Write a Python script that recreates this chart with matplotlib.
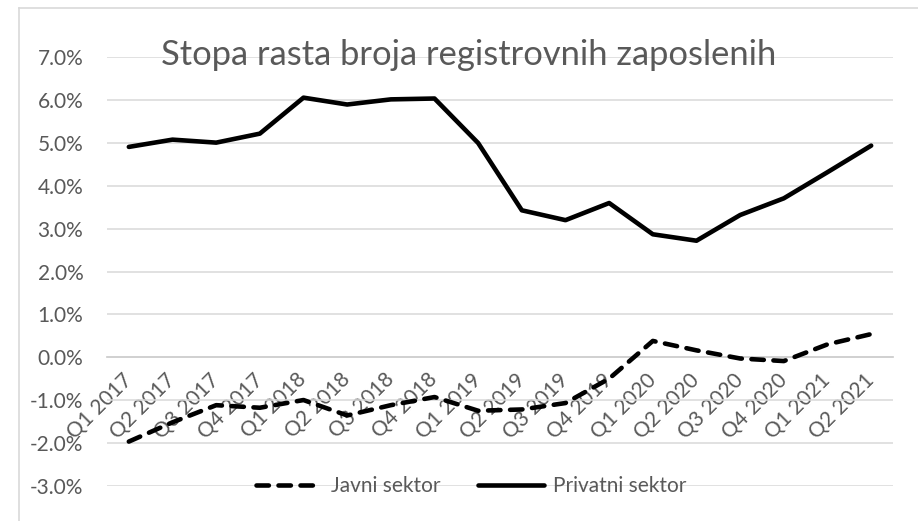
import matplotlib
matplotlib.use("Agg")
import matplotlib.pyplot as plt
from matplotlib.ticker import PercentFormatter
from matplotlib.lines import Line2D

categories = ["Q1 2017", "Q2 2017", "Q3 2017", "Q4 2017",
              "Q1 2018", "Q2 2018", "Q3 2018", "Q4 2018",
              "Q1 2019", "Q2 2019", "Q3 2019", "Q4 2019",
              "Q1 2020", "Q2 2020", "Q3 2020", "Q4 2020",
              "Q1 2021", "Q2 2021"]
javni = [-1.97, -1.52, -1.12, -1.18, -1.00, -1.36, -1.12, -0.93,
         -1.25, -1.22, -1.07, -0.50, 0.38, 0.16, -0.03, -0.09,
         0.30, 0.54]
privatni = [4.91, 5.08, 5.01, 5.22, 6.06, 5.90, 6.02, 6.04,
            5.00, 3.43, 3.20, 3.60, 2.87, 2.72, 3.32, 3.71,
            4.32, 4.94]
title = "Stopa rasta broja registrovnih zaposlenih"
yticks = [-3, -2, -1, 0, 1, 2, 3, 4, 5, 6, 7]

FONT = ["Lato", "DejaVu Sans"]
plt.rcParams["font.family"] = FONT
plt.rcParams["axes.unicode_minus"] = False
GRAY = "#595959"
FS = 15

W, H = 918, 521
fig = plt.figure(figsize=(W / 100, H / 100), dpi=100)
ax = fig.add_axes([107 / W, 1 - 485.7 / H, (893 - 107) / W, (485.7 - 57.4) / H])

x = list(range(len(categories)))
ax.plot(x, privatni, color="black", lw=3.3, solid_capstyle="round",
        solid_joinstyle="round", label="Privatni sektor", zorder=3)
ax.plot(x, javni, color="black", lw=3.3, linestyle=(0, (2.7, 2.1)),
        dash_capstyle="round", dash_joinstyle="round", label="Javni sektor", zorder=3)

ax.set_xlim(-0.5, len(categories) - 0.5)
ax.set_ylim(-3, 7)
ax.set_yticks(yticks)
ax.yaxis.set_major_formatter(PercentFormatter(decimals=1))
ax.grid(axis="y", color="#D9D9D9", lw=1.1)
ax.set_axisbelow(True)
for s in ["top", "right", "left"]:
    ax.spines[s].set_visible(False)
ax.spines["bottom"].set_position(("data", 0))
ax.spines["bottom"].set_color("#D0D0D0")
ax.spines["bottom"].set_linewidth(1.3)

ax.set_xticks(x)
ax.set_xticklabels(categories, rotation=45, ha="right", va="center",
                   rotation_mode="anchor", fontsize=FS, color=GRAY)
ax.tick_params(axis="x", length=0, pad=14)
ax.tick_params(axis="y", length=0, pad=17, labelsize=FS, labelcolor=GRAY)

fig.text(469 / W, 1 - 65 / H, title, ha="center", va="baseline",
         fontsize=24.8, color=GRAY)

handles = [Line2D([], [], color="black", lw=3.3, linestyle=(0, (2.7, 2.1)),
                  dash_capstyle="round"),
           Line2D([], [], color="black", lw=3.3, solid_capstyle="round")]
leg = ax.legend(handles, ["Javni sektor", "Privatni sektor"], loc="center",
                bbox_to_anchor=(471 / W, 1 - 486 / H), bbox_transform=fig.transFigure,
                ncol=2, frameon=False, fontsize=FS, handlelength=3.2,
                handletextpad=0.4, columnspacing=1.8, labelcolor=GRAY)

# chart border
fig.add_artist(Line2D([19 / W, 19 / W], [1 - 8 / H, 0], color="#D9D9D9", lw=1.2,
                      transform=fig.transFigure))
fig.add_artist(Line2D([19 / W, 1], [1 - 8 / H, 1 - 8 / H], color="#D9D9D9", lw=1.2,
                      transform=fig.transFigure))

fig.savefig("out.png", dpi=100, facecolor="white")
